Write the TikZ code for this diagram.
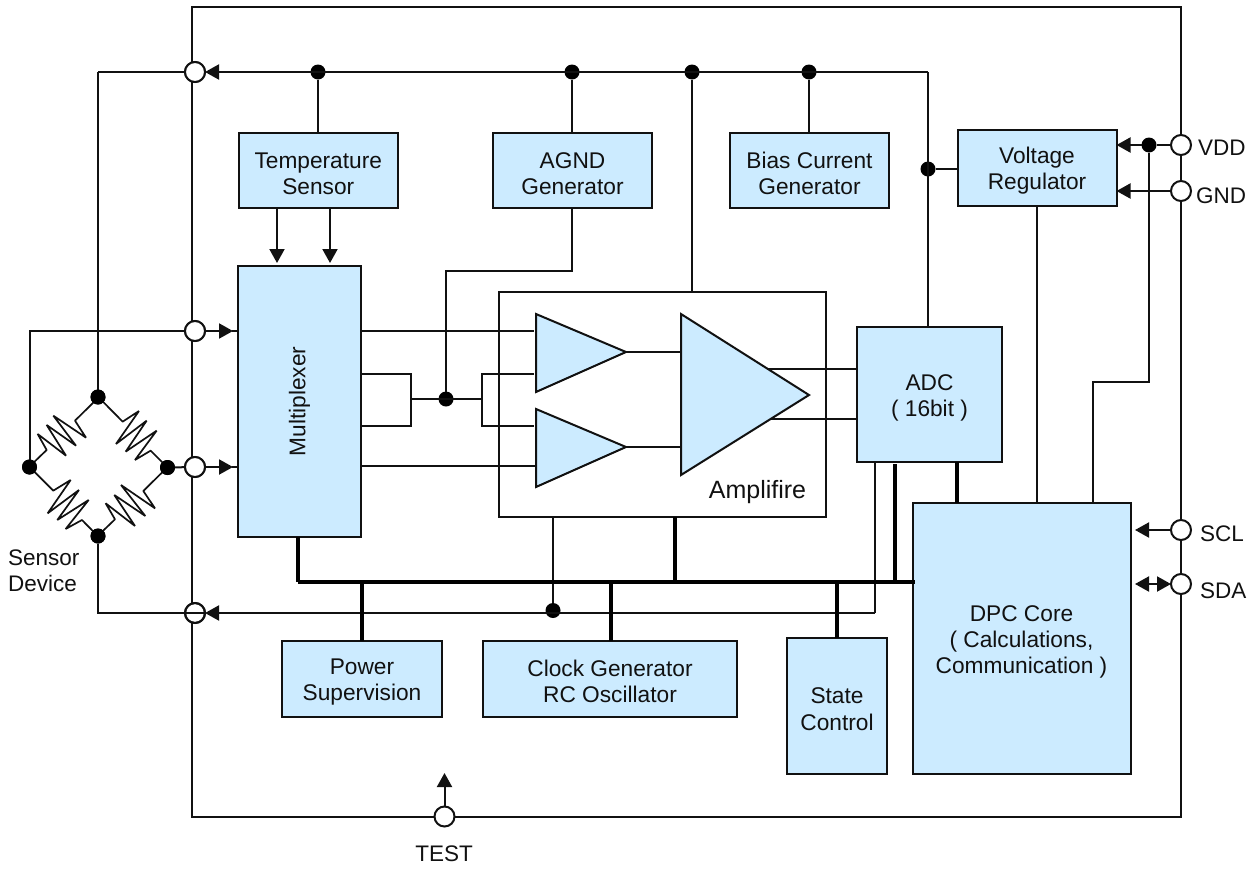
\documentclass[tikz,border=0pt]{standalone}
\usepackage{fontspec}
\setmainfont{Liberation Sans}
\usetikzlibrary{arrows.meta,calc}
\definecolor{boxblue}{HTML}{CCEBFF}
\definecolor{ink}{HTML}{111111}
\newcommand{\upgap}{\rule{0pt}{22pt}}
\tikzset{
  wire/.style={draw=ink,line width=2pt,line join=miter},
  bus/.style={draw=black,line width=4pt},
  box/.style={draw=ink,fill=boxblue,line width=2pt,inner sep=0pt,outer sep=0pt,align=center,
     font=\fontsize{22.7}{26.3}\selectfont,text=ink},
  amp/.style={draw=ink,fill=boxblue,line width=2pt,line join=miter},
  pin/.style={circle,draw=ink,fill=white,line width=2pt,minimum size=20pt,inner sep=0pt,outer sep=0pt},
  pinring/.style={circle,draw=ink,line width=2pt,minimum size=20pt,inner sep=0pt,outer sep=0pt},
  junc/.style={circle,fill=black,minimum size=15pt,inner sep=0pt,outer sep=0pt},
  lab/.style={inner sep=0pt,align=left,text=ink,font=\fontsize{22.5}{26}\selectfont},
  tip/.style={-{Triangle[length=14pt,width=15pt]}},
  tips/.style={{Triangle[length=14pt,width=15pt]}-{Triangle[length=14pt,width=15pt]}},
  tipgap/.style={tip,shorten >=5pt},
  tipnear/.style={tip,shorten >=3pt},
  resist/.style={draw=ink,line width=1.7pt,line join=bevel},
}
\begin{document}
\begin{tikzpicture}[x=1pt,y=-1pt]
\useasboundingbox (0,0) rectangle (1256,868);
% outer frame
\node[draw=ink,line width=2pt,minimum width=989pt,minimum height=809.5pt,inner sep=0pt,outer sep=0pt] (chip) at (686.5,411.75) {};
% boxes
\node[box,minimum width=159.5pt,minimum height=75pt] (temp) at (318.25,170.5) {\upgap Temperature\\Sensor};
\node[box,minimum width=159pt,minimum height=75pt] (agnd) at (572.5,170.5) {\upgap AGND\\Generator};
\node[box,minimum width=159pt,minimum height=75pt] (bias) at (809.5,170.5) {\upgap Bias Current\\Generator};
\node[box,minimum width=159pt,minimum height=76pt] (vreg) at (1037,168) {\upgap Voltage\\Regulator};
\node[box,minimum width=123pt,minimum height=271pt] (mux) at (299.5,401.5) {\rotatebox{90}{Multiplexer}};
\node[draw=ink,fill=white,line width=2pt,minimum width=327pt,minimum height=225pt,inner sep=0pt,outer sep=0pt] (ampbox) at (662.5,404.5) {};
\node[box,minimum width=145pt,minimum height=135pt] (adc) at (929.5,394.5) {\upgap ADC\\( 16bit )};
\node[box,minimum width=218pt,minimum height=271pt] (dpc) at (1021.5,638.75) {\upgap DPC Core\\( Calculations,\\Communication )};
\node[box,minimum width=160pt,minimum height=76pt] (pwr) at (362,678.7) {\upgap Power\\Supervision};
\node[box,minimum width=254pt,minimum height=76pt] (clk) at (610,678.7) {\upgap Clock Generator\\RC Oscillator};
\node[box,minimum width=100pt,minimum height=136pt] (state) at (837,706) {\upgap State\\Control};
% pins
\node[pin] (ptop) at (195,72) {};
\node[pin] (pa) at (195,331) {};
\node[pin] (pb) at (195,467) {};
\node[pin] (pc) at (195,613) {};
\node[pin] (pvdd) at (1181,145) {};
\node[pin] (pgnd) at (1181,191) {};
\node[pin] (pscl) at (1181,530) {};
\node[pin] (psda) at (1181,584) {};
\node[pin] (ptest) at (444.5,816.5) {};
% junctions
\node[junc] (j1) at (318,72) {};
\node[junc] (j2) at (572,72) {};
\node[junc] (j3) at (692,72) {};
\node[junc] (j4) at (809,72) {};
\node[junc] (j5) at (928,169) {};
\node[junc] (j6) at (1149,145) {};
\node[junc] (j7) at (446,399) {};
\node[junc] (j8) at (553,610.5) {};
\node[junc] (bt) at (98,397) {};
\node[junc] (bl) at (29.5,467) {};
\node[junc] (br) at (167.5,467.5) {};
\node[junc] (bb) at (98,536) {};
% coordinates
\coordinate (rtop) at (928,72);
\coordinate (lft) at (98,72);
\coordinate (agl) at (446,270.5);
\coordinate (lowr) at (875,613);
\coordinate (p1) at (411,374);
\coordinate (p2) at (411,426);
\coordinate (p3) at (482,374);
\coordinate (p4) at (482,426);
\coordinate (pm) at (411,399);
\coordinate (pn) at (482,399);
\coordinate (v1) at (1149,382);
\coordinate (v2) at (1093,382);
\coordinate (ttip) at (444.5,773);
\coordinate (b0) at (298,582);
\coordinate (b1) at (914.5,582);
\coordinate (bp) at (362,582);
\coordinate (bc) at (611,582);
\coordinate (ba) at (675,582);
\coordinate (bs) at (837,582);
\coordinate (bd) at (895,582);
\coordinate (bd2) at (895,464);
\coordinate (be) at (957,462);
\coordinate (ta1) at (277,208);
\coordinate (ta2) at (330,208);
\coordinate (sclt) at (1135,530);
\coordinate (sdat) at (1135,584);
% triangles
\coordinate (a1) at (536,314); \coordinate (a2) at (536,392); \coordinate (a3) at (626,352);
\coordinate (c1) at (536,409); \coordinate (c2) at (536,487); \coordinate (c3) at (626,447);
\coordinate (d1) at (681,314); \coordinate (d2) at (681,475); \coordinate (d3) at (809,395);
\coordinate (ai1) at (534,331); \coordinate (ai2) at (534,374);
\coordinate (ci1) at (534,426); \coordinate (ci2) at (536,466);
\coordinate (do1) at (765,369); \coordinate (do2) at (769,419);
% top rail
\draw[wire] (lft) -- (ptop.west);
\draw[wire,tip] (rtop) -- (ptop.east);
\draw[wire] (rtop) -- (rtop |- adc.north);
\draw[wire] (lft) -- (bt);
\draw[wire] (j1) -- (temp.north -| j1);
\draw[wire] (j2) -- (agnd.north -| j2);
\draw[wire] (j3) -- (ampbox.north -| j3);
\draw[wire] (j4) -- (bias.north -| j4);
\draw[wire] (j5) -- (vreg.west |- j5);
% chip inputs
\draw[wire] (bl) -- (bl |- pa) -- (pa);
\draw[wire,tipgap] (pa) -- (mux.west |- pa);
\draw[wire] ($(mux.west |- pa)+(-6,0)$) -- (mux.west |- pa);
\draw[wire] (br) -- (pb);
\draw[wire,tipgap] (pb) -- (mux.west |- pb);
\draw[wire] ($(mux.west |- pb)+(-6,0)$) -- (mux.west |- pb);
\draw[wire] (bb) -- (bb |- pc) -- (pc.center);
% temp sensor arrows
\draw[wire,tipnear] (ta1) -- (mux.north -| ta1);
\draw[wire,tipnear] (ta2) -- (mux.north -| ta2);
% agnd to node
\draw[wire] (agnd.south -| j2) -- (j2 |- agl) -- (agl) -- (j7);
% mux to amp
\draw[wire] (mux.east |- ai1) -- (ai1);
\draw[wire] (mux.east |- p1) -- (p1) -- (p2) -- (mux.east |- p2);
\draw[wire] (pm) -- (pn);
\draw[wire] (ai2) -- (p3) -- (p4) -- (ci1);
\draw[wire] (mux.east |- ci2) -- (ci2);
% amps
\draw[wire] (do1) -- (adc.west |- do1);
\draw[wire] (do2) -- (adc.west |- do2);
\draw[amp] (a1) -- (a2) -- (a3) -- cycle;
\draw[amp] (c1) -- (c2) -- (c3) -- cycle;
\draw[amp] (d1) -- (d2) -- (d3) -- cycle;
\draw[wire] (a3) -- (d1 |- a3);
\draw[wire] (c3) -- (d1 |- c3);
\node[inner sep=0pt,text=ink,font=\fontsize{25}{30}\selectfont] (amplabel) at (757.5,492) {Amplifire};
% lower return
\draw[wire] (lowr) -- (lowr |- adc.south);
\draw[wire,tip] (lowr) -- (pc.east);
\draw[wire] (pc.east) -- (pc.center);
\draw[wire] (j8) -- (j8 |- ampbox.south);
% bus
\draw[bus] (b0) -- (b1);
\draw[bus] (mux.south -| b0) -- (b0);
\draw[bus] (bp) -- (pwr.north -| bp);
\draw[bus] (bc) -- (clk.north -| bc);
\draw[bus] (ba) -- (ampbox.south -| ba);
\draw[bus] (bs) -- (state.north -| bs);
\draw[bus] (bd) -- (bd2);
\draw[bus] (be) -- (dpc.north -| be);
% right
\draw[wire] (pvdd) -- (j6);
\draw[wire,tip] (j6) -- (vreg.east |- j6);
\draw[wire,tip] (pgnd) -- (vreg.east |- pgnd);
\draw[wire] (j6) -- (v1) -- (v2) -- (v2 |- dpc.north);
\draw[wire] (vreg.south) -- (vreg.south |- dpc.north);
\draw[wire,tip] (pscl) -- (sclt);
\draw[wire,tips] (sdat) -- (psda);
\draw[wire,tip] (ptest) -- (ttip);
% bridge resistors
\begin{scope}[shift={(0,300)},x=0.3333pt,y=-0.3333pt]
\draw[resist] (296,292)--(225,362)--(258,413)--(160,347)--(228,437)--(140,375)--(198,467)--(113,402)--(140,450)--(88,500);
\draw[resist] (296,292)--(368,365)--(417,333)--(348,432)--(440,362)--(377,455)--(470,392)--(405,480)--(452,452)--(502,502);
\draw[resist] (88,500)--(160,572)--(212,540)--(143,640)--(237,570)--(172,660)--(266,600)--(197,687)--(246,660)--(293,708);
\draw[resist] (293,708)--(345,658)--(317,610)--(405,678)--(343,585)--(436,648)--(363,555)--(465,625)--(430,573)--(502,502);
\end{scope}
% pins and dots over wires
\node[pin] at (pa) {};
\node[pin] at (pb) {};
\node[pinring] at (pc) {};
\node[pin] at (ptop) {};
\node[junc] at (bt) {}; \node[junc] at (bl) {}; \node[junc] at (br) {}; \node[junc] at (bb) {};
% labels
\node[lab,anchor=west] (sens) at (8,571) {Sensor\\Device};
\node[lab,anchor=west] (lvdd) at (1198,148) {VDD};
\node[lab,anchor=west] (lgnd) at (1196,195.5) {GND};
\node[lab,anchor=west] (lscl) at (1200,534) {SCL};
\node[lab,anchor=west] (lsda) at (1200,591) {SDA};
\node[lab] (ltest) at (444,854) {TEST};
\end{tikzpicture}
\end{document}
